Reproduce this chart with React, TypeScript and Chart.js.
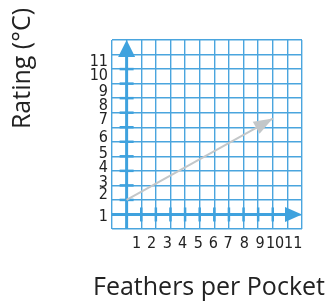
import React, { useEffect, useRef } from 'react';
import { Chart, registerables } from 'chart.js';

Chart.register(...registerables);

// ---- data ----
const gridMin = -1;
const gridMax = 12;
const xTickLabels = ['1', '2', '3', '4', '5', '6', '7', '8', '9', '10', '11'];
const xTickPositions = [0.68, 1.71, 2.79, 3.83, 4.9, 5.93, 6.95, 8.05, 9.13, 10.16, 11.4];
const yTickLabels = ['1', '2', '3', '4', '5', '6', '7', '8', '9', '10', '11'];
const yTickPositions = [-0.15, 1.34, 2.17, 3.2, 4.16, 5.26, 6.53, 7.46, 8.42, 9.52, 10.5];
const axisTickMarks = [1, 2, 3, 4, 5, 6, 7, 8, 9, 10];
const arrowX = [0, 10];
const arrowY = [1, 6.6];
const xTitle = 'Feathers per Pocket';
const yTitle = 'Rating (°C)';

const GRID_COLOR = '#4aa5de';
const AXIS_COLOR = '#3fa2de';
const ARROW_COLOR = '#c3c7c9';
const TEXT_COLOR = '#222222';
const TICK_FONT = "'DejaVu Sans Condensed', 'DejaVu Sans', sans-serif";
const TITLE_FONT = "'Open Sans', 'Noto Sans', sans-serif";

const axesPlugin = {
  id: 'axesArrows',
  beforeDatasetsDraw(chart: any) {
    const ctx = chart.ctx;
    const xs = chart.scales.x;
    const ys = chart.scales.y;
    const x0 = xs.getPixelForValue(0);
    const y0 = ys.getPixelForValue(0);
    const headLen = 17;
    const headHalf = 8.5;
    ctx.save();
    ctx.strokeStyle = AXIS_COLOR;
    ctx.fillStyle = AXIS_COLOR;
    ctx.lineWidth = 3;
    // y axis
    const yTip = ys.getPixelForValue(gridMax);
    ctx.beginPath();
    ctx.moveTo(x0, ys.getPixelForValue(gridMin));
    ctx.lineTo(x0, yTip + headLen);
    ctx.stroke();
    ctx.beginPath();
    ctx.moveTo(x0, yTip);
    ctx.lineTo(x0 - headHalf, yTip + headLen);
    ctx.lineTo(x0 + headHalf, yTip + headLen);
    ctx.closePath();
    ctx.fill();
    // x axis
    const xTip = xs.getPixelForValue(gridMax);
    ctx.beginPath();
    ctx.moveTo(xs.getPixelForValue(gridMin), y0);
    ctx.lineTo(xTip - headLen, y0);
    ctx.stroke();
    ctx.beginPath();
    ctx.moveTo(xTip, y0);
    ctx.lineTo(xTip - headLen, y0 - headHalf + 1);
    ctx.lineTo(xTip - headLen, y0 + headHalf - 1);
    ctx.closePath();
    ctx.fill();
    // tick marks
    ctx.lineWidth = 2.5;
    axisTickMarks.forEach((v) => {
      const py = ys.getPixelForValue(v);
      ctx.beginPath();
      ctx.moveTo(x0 - 7, py);
      ctx.lineTo(x0 + 7, py);
      ctx.stroke();
      const px = xs.getPixelForValue(v);
      ctx.beginPath();
      ctx.moveTo(px, y0 - 7);
      ctx.lineTo(px, y0 + 7);
      ctx.stroke();
    });
    ctx.restore();
  },
  afterDatasetsDraw(chart: any) {
    const ctx = chart.ctx;
    const meta = chart.getDatasetMeta(0);
    const pts = meta.data;
    if (!pts || pts.length < 2) return;
    const a = pts[pts.length - 2];
    const b = pts[pts.length - 1];
    const ang = Math.atan2(b.y - a.y, b.x - a.x);
    const len = 19;
    const half = 7;
    ctx.save();
    ctx.translate(b.x, b.y);
    ctx.rotate(ang);
    ctx.fillStyle = ARROW_COLOR;
    ctx.beginPath();
    ctx.moveTo(0, 0);
    ctx.lineTo(-len, -half);
    ctx.lineTo(-len, half);
    ctx.closePath();
    ctx.fill();
    ctx.restore();
  },
  afterDraw(chart: any) {
    const ctx = chart.ctx;
    ctx.save();
    ctx.fillStyle = TEXT_COLOR;
    ctx.font = `25px ${TITLE_FONT}`;
    ctx.textAlign = 'center';
    ctx.textBaseline = 'alphabetic';
    ctx.fillText(xTitle, 209, 295);
    ctx.translate(30, 68.5);
    ctx.rotate(-Math.PI / 2);
    ctx.fillText(yTitle, 0, 0);
    ctx.restore();
  },
};

export default function App() {
  const ref = useRef<HTMLCanvasElement | null>(null);
  useEffect(() => {
    if (!ref.current) return;
    const chart = new Chart(ref.current, {
      type: 'scatter',
      data: {
        datasets: [
          {
            data: arrowX.map((x, i) => ({ x, y: arrowY[i] })),
            showLine: true,
            borderColor: ARROW_COLOR,
            borderWidth: 2,
            pointRadius: 0,
            fill: false,
          },
        ],
      },
      options: {
        animation: false,
        responsive: true,
        maintainAspectRatio: false,
        layout: { padding: { top: 40, right: 23, left: 0, bottom: 0 } },
        plugins: { legend: { display: false }, tooltip: { enabled: false } },
        scales: {
          x: {
            type: 'linear',
            position: 'bottom',
            min: gridMin,
            max: gridMax,
            ticks: { stepSize: 1, display: false },
            grid: { color: GRID_COLOR, lineWidth: 1.4, drawTicks: false },
            border: { display: false },
            afterFit: (s: any) => { s.height = 0; },
          },
          x2: {
            type: 'linear',
            position: 'bottom',
            min: gridMin,
            max: gridMax,
            grid: { display: false, drawTicks: false },
            border: { display: false },
            afterBuildTicks: (s: any) => { s.ticks = xTickPositions.map((v) => ({ value: v })); },
            ticks: {
              autoSkip: false,
              maxRotation: 0,
              padding: 5,
              color: TEXT_COLOR,
              font: { family: TICK_FONT, size: 16 },
              callback: (_v: any, i: number) => xTickLabels[i],
            },
            afterFit: (s: any) => { s.height = 72; },
          },
          y: {
            type: 'linear',
            position: 'left',
            min: gridMin,
            max: gridMax,
            ticks: { stepSize: 1, display: false },
            grid: { color: GRID_COLOR, lineWidth: 1.4, drawTicks: false },
            border: { display: false },
            afterFit: (s: any) => { s.width = 0; },
          },
          y2: {
            type: 'linear',
            position: 'left',
            min: gridMin,
            max: gridMax,
            grid: { display: false, drawTicks: false },
            border: { display: false },
            afterBuildTicks: (s: any) => { s.ticks = yTickPositions.map((v) => ({ value: v })); },
            ticks: {
              autoSkip: false,
              padding: 4,
              color: TEXT_COLOR,
              font: { family: TICK_FONT, size: 16 },
              callback: (_v: any, i: number) => yTickLabels[i],
            },
            afterFit: (s: any) => { s.width = 112; },
          },
        },
      } as any,
      plugins: [axesPlugin],
    });
    return () => chart.destroy();
  }, []);
  return (
    <div style={{ position: 'fixed', left: 0, top: 0, width: 325, height: 301, background: '#ffffff' }}>
      <canvas ref={ref} />
    </div>
  );
}
